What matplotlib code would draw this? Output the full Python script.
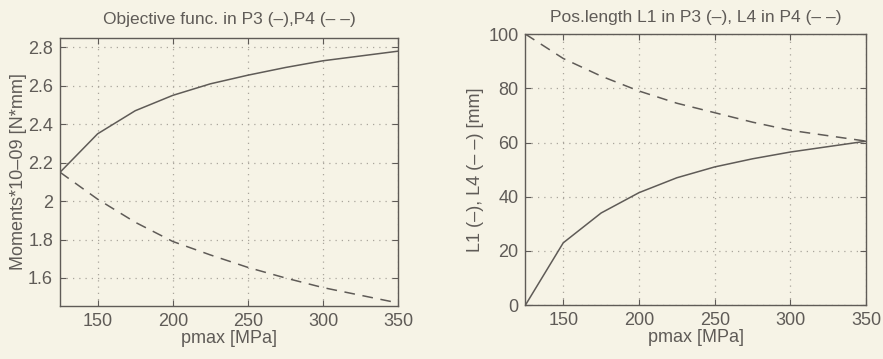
import matplotlib
matplotlib.use('Agg')
import matplotlib.pyplot as plt

# pmax values (MPa)
pmax = [125, 150, 175, 200, 225, 250, 275, 300, 325, 350]

# Objective function (Moments*10-09 [N*mm])
moment_p3 = [2.15, 2.35, 2.47, 2.55, 2.61, 2.655, 2.695, 2.73, 2.755, 2.78]
moment_p4 = [2.15, 2.01, 1.89, 1.79, 1.72, 1.655, 1.60, 1.55, 1.51, 1.47]

# Positioning lengths (mm)
l1_p3 = [0, 23, 34, 41.5, 47, 51, 54, 56.5, 58.5, 60.5]
l4_p4 = [100, 91, 84.5, 79, 74.5, 71, 67.5, 64.5, 62.5, 60.5]

bg = '#f6f3e6'
ink = '#5f5b57'
plt.rcParams['font.family'] = ['Liberation Sans', 'DejaVu Sans']
plt.rcParams['font.size'] = 13

fig = plt.figure(figsize=(8.83, 3.59), dpi=100, facecolor=bg)
ax1 = fig.add_axes([0.068, 0.148, 0.383, 0.747], facecolor=bg)
ax2 = fig.add_axes([0.595, 0.150, 0.386, 0.755], facecolor=bg)

ax1.plot(pmax, moment_p3, color=ink, lw=1.1)
ax1.plot(pmax, moment_p4, color=ink, lw=1.1, dashes=(7, 5))
ax1.set_xlim(125, 350)
ax1.set_ylim(1.455, 2.85)
ax1.set_xticks([150, 200, 250, 300, 350])
ax1.set_yticks([1.6, 1.8, 2.0, 2.2, 2.4, 2.6, 2.8])
ax1.set_yticklabels(['1.6', '1.8', '2', '2.2', '2.4', '2.6', '2.8'])
ax1.set_title('Objective func. in P3 (\u2013),P4 (\u2013 \u2013)', color=ink, fontsize=12.5, pad=10)
ax1.set_xlabel('pmax [MPa]', color=ink, labelpad=0)
ax1.set_ylabel('Moments*10\u201309 [N*mm]', color=ink, labelpad=1)

ax2.plot(pmax, l1_p3, color=ink, lw=1.1)
ax2.plot(pmax, l4_p4, color=ink, lw=1.1, dashes=(7, 5))
ax2.set_xlim(125, 350)
ax2.set_ylim(0, 100)
ax2.set_xticks([150, 200, 250, 300, 350])
ax2.set_yticks([0, 20, 40, 60, 80, 100])
ax2.set_title('Pos.length L1 in P3 (\u2013), L4 in P4 (\u2013 \u2013)', color=ink, fontsize=12.5, pad=9)
ax2.set_xlabel('pmax [MPa]', color=ink, labelpad=0)
ax2.set_ylabel('L1 (\u2013), L4 (\u2013 \u2013) [mm]', color=ink, labelpad=3)

for ax in (ax1, ax2):
    ax.grid(True, linestyle=(0, (1, 4)), color='#aaa59c', lw=0.9)
    ax.tick_params(direction='in', colors=ink, labelsize=13, top=True, right=True,
                   length=4, pad=5)
    for s in ax.spines.values():
        s.set_color(ink)
        s.set_linewidth(1.0)

fig.savefig('out.png', dpi=100, facecolor=bg)
